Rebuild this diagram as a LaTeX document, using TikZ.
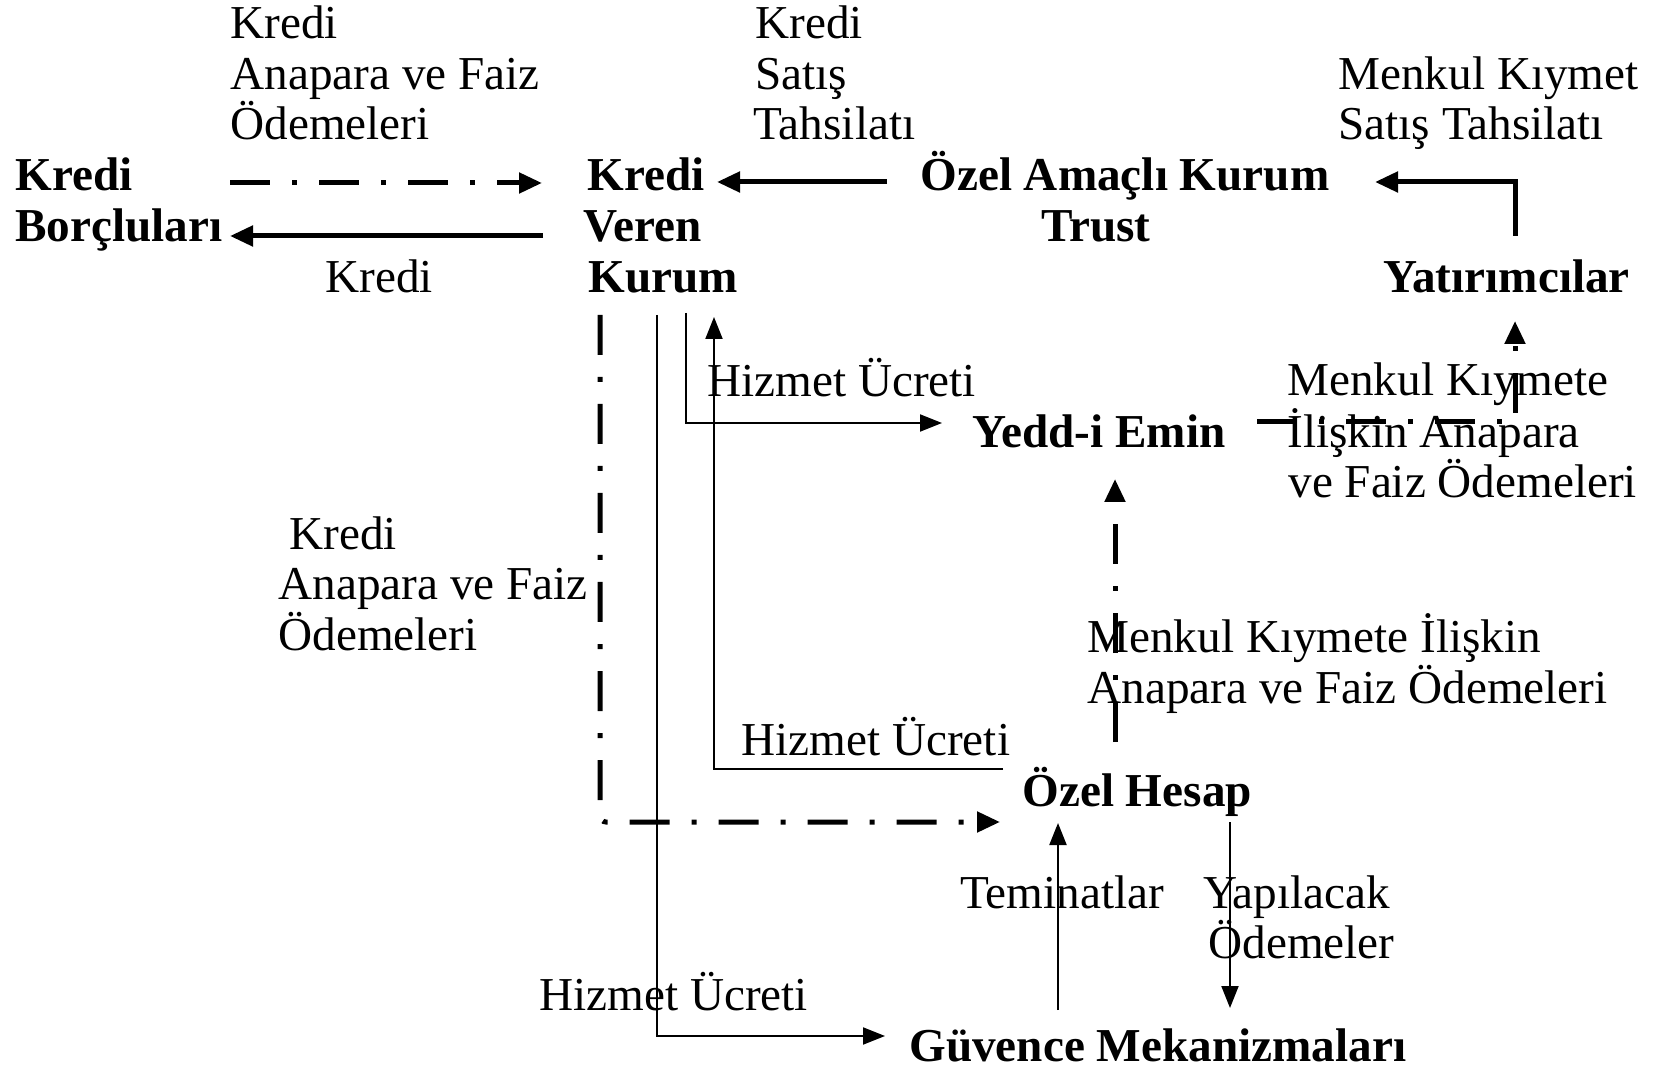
\documentclass[tikz,border=0pt]{standalone}
\usepackage{fontspec}
\setmainfont{Liberation Serif}
\usetikzlibrary{arrows.meta}
\tikzset{
  lbl/.style={anchor=base west, inner sep=0pt, yshift=-1.5pt, font=\fontsize{23.6}{25}\selectfont},
  ent/.style={anchor=base west, inner sep=0pt, yshift=-1.5pt, font=\fontsize{23.6}{25}\selectfont\bfseries},
  thickar/.style={line width=2.5pt, -{Triangle[length=11.5pt,width=10pt]}},
  thinar/.style={line width=1pt, -{Triangle[length=11pt,width=8.5pt]}},
  dashdotline/.style={dash pattern=on 20pt off 11pt on 2.5pt off 11pt},
}
\begin{document}
\begin{tikzpicture}[x=0.5pt,y=-0.5pt]
\useasboundingbox (0,0) rectangle (1653,1068);

% ---- entities (bold)
\node[ent] (kb1) at (15,188) {Kredi};
\node[ent] (kb2) at (15,239) {Borçluları};
\node[ent] (kv1) at (587,188) {Kredi};
\node[ent] (kv2) at (583,239) {Veren};
\node[ent] (kv3) at (588,290) {Kurum};
\node[ent] (oak1) at (920,188) {Özel Amaçlı Kurum};
\node[ent] (oak2) at (1041,239) {Trust};
\node[ent] (yat) at (1383,290) {Yatırımcılar};
\node[ent] (yed) at (972,445) {Yedd-i Emin};
\node[ent] (oh) at (1022,803) {Özel Hesap};
\node[ent] (gm) at (909,1058) {Güvence Mekanizmaları};

% ---- labels
\node[lbl] (la1) at (230,36) {Kredi};
\node[lbl] (la2) at (230,87) {Anapara ve Faiz};
\node[lbl] (la3) at (230,137) {Ödemeleri};
\node[lbl] (lb1) at (325,290) {Kredi};
\node[lbl] (lc1) at (755,36) {Kredi};
\node[lbl] (lc2) at (755,87) {Satış};
\node[lbl] (lc3) at (753,137) {Tahsilatı};
\node[lbl] (ld1) at (1338,87) {Menkul Kıymet};
\node[lbl] (ld2) at (1338,137) {Satış Tahsilatı};
\node[lbl] (le1) at (707,394) {Hizmet Ücreti};
\node[lbl] (lf1) at (1287,393) {Menkul Kıymete};
\node[lbl] (lf2) at (1287,445) {İlişkin Anapara};
\node[lbl] (lf3) at (1288,495) {ve Faiz Ödemeleri};
\node[lbl] (lg1) at (289,547) {Kredi};
\node[lbl] (lg2) at (278,597) {Anapara ve Faiz};
\node[lbl] (lg3) at (278,648) {Ödemeleri};
\node[lbl] (lh1) at (1087,650) {Menkul Kıymete İlişkin};
\node[lbl] (lh2) at (1087,700) {Anapara ve Faiz Ödemeleri};
\node[lbl] (li1) at (741,752) {Hizmet Ücreti};
\node[lbl] (lj1) at (960,905) {Teminatlar};
\node[lbl] (lk1) at (1203,905) {Yapılacak};
\node[lbl] (lk2) at (1208,955) {Ödemeler};
\node[lbl] (ll1) at (539,1007) {Hizmet Ücreti};

% ---- connector end points
\coordinate (a1s) at (230,183);  \coordinate (a1e) at (542,183);
\coordinate (a2s) at (543,236);  \coordinate (a2e) at (230,236);
\coordinate (a3s) at (887,182);  \coordinate (a3e) at (717,182);
\coordinate (a4s) at (1515,236); \coordinate (a4e) at (1375,182);
\coordinate (a5s) at (1257,422); \coordinate (a5e) at (1515,321);
\coordinate (a6s) at (600,315);  \coordinate (a6e) at (1000,822);
\coordinate (a7s) at (657,315);  \coordinate (a7e) at (885,1036);
\coordinate (a8s) at (686,313);  \coordinate (a8e) at (942,423);
\coordinate (a9s) at (1003,769); \coordinate (a9e) at (714,317);
\coordinate (a10s) at (1115,742); \coordinate (a10e) at (1115,479);
\coordinate (a11s) at (1058,1010); \coordinate (a11e) at (1058,823);
\coordinate (a12s) at (1230,822); \coordinate (a12e) at (1230,1008);

% ---- connectors
\draw[thickar,dashdotline] (a1s) -- (a1e);
\draw[thickar] (a2s) -- (a2e);
\draw[thickar] (a3s) -- (a3e);
\draw[thickar] (a4s) |- (a4e);
\draw[thickar,dashdotline] (a5s) -| (a5e);
\draw[thickar,dashdotline,rounded corners=3pt] (a6s) |- (a6e);
\draw[thinar] (a7s) |- (a7e);
\draw[thinar] (a8s) |- (a8e);
\draw[thinar] (a9s) -| (a9e);
\draw[thickar,dashdotline] (a10s) -- (a10e);
\draw[thinar] (a11s) -- (a11e);
\draw[thinar] (a12s) -- (a12e);
\end{tikzpicture}
\end{document}
